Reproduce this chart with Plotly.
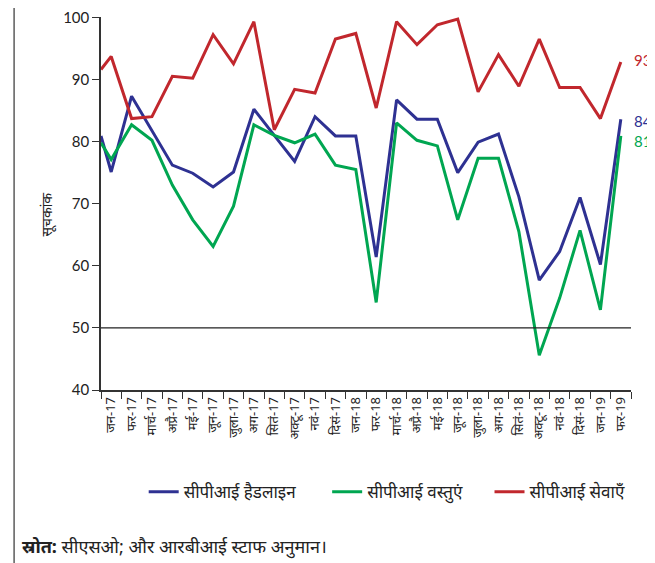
import plotly.graph_objects as go

months = ["जन-17", "फर-17", "मार्च-17", "अप्रै-17", "मई-17", "जून-17", "जुला-17", "अग-17",
          "सितं-17", "अक्टू-17", "नवं-17", "दिसं-17", "जन-18", "फर-18", "मार्च-18", "अप्रै-18",
          "मई-18", "जून-18", "जुला-18", "अग-18", "सितं-18", "अक्टू-18", "नवं-18", "दिसं-18",
          "जन-19", "फर-19"]

# first value = where the line enters at the left axis edge (previous month, clipped)
headline = [80.9, 75.1, 87.3, 81.8, 76.2, 74.9, 72.7, 75.1, 85.2, 81.0, 76.8, 84.0, 80.9, 80.9,
            61.4, 86.7, 83.6, 83.6, 75.0, 79.9, 81.2, 71.1, 57.7, 62.3, 71.0, 60.2, 83.6]
goods = [79.8, 77.1, 82.7, 80.2, 73.0, 67.4, 63.1, 69.6, 82.7, 81.0, 79.8, 81.2, 76.2, 75.5,
         54.1, 83.0, 80.2, 79.3, 67.4, 77.3, 77.3, 65.5, 45.6, 54.8, 65.7, 52.9, 80.9]
services = [91.6, 93.7, 83.7, 84.0, 90.5, 90.2, 97.2, 92.5, 99.3, 81.9, 88.4, 87.8, 96.5, 97.4,
            85.4, 99.3, 95.6, 98.8, 99.7, 88.0, 94.0, 88.9, 96.5, 88.7, 88.7, 83.7, 92.8]

names = ["सीपीआई हैडलाइन", "सीपीआई वस्तुएं", "सीपीआई सेवाएँ"]
colors = ["#2E3192", "#00A651", "#C1272D"]
yticks = [40, 50, 60, 70, 80, 90, 100]

xpos = [-0.5] + list(range(len(months)))
num_font = "Lato, 'Open Sans', sans-serif"
dev_font = "'Noto Sans', 'Lohit Devanagari', sans-serif"

fig = go.Figure()
gaps = ["\u00a0" * 6, "\u00a0" * 5, ""]
label_shift = [-2, -5, 2]
for name, vals, col, gap, ys in zip(names, [headline, goods, services], colors, gaps, label_shift):
    fig.add_trace(go.Scatter(x=xpos, y=vals, mode="lines", name=name + gap,
                             line=dict(color=col, width=3), cliponaxis=True))
    fig.add_annotation(x=xpos[-1], y=vals[-1], xref="x", yref="y", text=str(round(vals[-1])),
                       showarrow=False, xanchor="left", xshift=11, yshift=ys,
                       font=dict(color=col, size=15, family=num_font))

fig.add_annotation(text="सूचकांक", xref="paper", yref="paper", x=-0.125, y=0.47, textangle=-90,
                   showarrow=False, font=dict(size=14, family=dev_font, color="#222222"))
fig.add_annotation(text="<b>स्रोत:</b> सीएसओ; और आरबीआई स्टाफ अनुमान।", xref="paper", yref="paper",
                   x=-0.153, y=-0.42, xanchor="left", yanchor="middle", showarrow=False,
                   font=dict(size=18, family=dev_font, color="#222222"))

fig.add_hline(y=50, line=dict(color="#222222", width=1.2))
fig.add_shape(type="line", xref="paper", yref="paper", x0=-0.164, x1=-0.164,
              y0=-0.5, y1=1.1, line=dict(color="#333333", width=1.2))

fig.update_layout(
    width=647, height=555,
    margin=dict(l=93, r=24, t=9, b=173, autoexpand=False),
    plot_bgcolor="white", paper_bgcolor="white",
    showlegend=True,
    legend=dict(orientation="h", x=0.54, xanchor="center", y=-0.274, yanchor="middle",
                font=dict(size=17, family=dev_font, color="#222222"), traceorder="normal"),
    xaxis=dict(range=[-0.5, 25.5], tickmode="array", tickvals=list(range(len(months))),
               ticktext=months, tickangle=-90, ticks="", showgrid=False, zeroline=False,
               showline=True, linecolor="#333333", linewidth=1.5, automargin=False,
               tickfont=dict(size=13, family=dev_font, color="#222222"),
               minor=dict(tickmode="linear", tick0=-0.5, dtick=1, ticks="outside",
                          ticklen=7, tickcolor="#333333", tickwidth=1.2, showgrid=False)),
    yaxis=dict(range=[40, 100.05], tickmode="array", tickvals=yticks, ticks="outside",
               ticklen=7, tickcolor="#333333", showgrid=False, zeroline=False,
               showline=True, linecolor="#333333", linewidth=1.5, automargin=False,
               ticklabeloverflow="allow",
               tickfont=dict(size=15, family=num_font, color="#222222")),
)

fig.write_html("out.html")
